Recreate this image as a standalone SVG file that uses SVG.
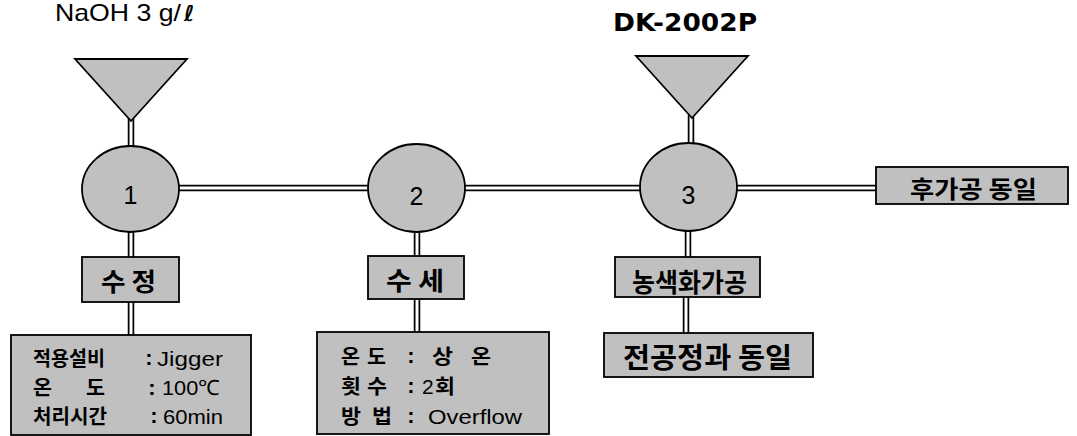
<svg xmlns="http://www.w3.org/2000/svg" width="1077" height="436" viewBox="0 0 1077 436">
<style>
.shape{fill:#c0c0c0;stroke:#000;stroke-width:1.8}
.pipeO{fill:none;stroke:#000;stroke-width:6.5}
.pipeI{fill:none;stroke:#fff;stroke-width:3}
.ko{font-family:"Noto Sans CJK KR",sans-serif;font-size:20px;font-weight:bold;fill:#000}
.la{font-family:"Liberation Sans",Arial,sans-serif;font-size:21px;fill:#000}
.col{font-family:"Liberation Sans",Arial,sans-serif;font-size:22px;font-weight:bold;fill:#000;text-anchor:middle}
.num{font-family:"Liberation Sans",Arial,sans-serif;font-size:25px;fill:#000;text-anchor:middle}
</style>
<rect width="1077" height="436" fill="#fff"/>
<g id="connectors">
<path class="pipeO" d="M131 118V150 M178 188H370 M463 188H642 M735 188H878 M131 230V259 M131 300V337 M417 230V258 M417 297V334 M691 115V147 M688 229V259 M686 295V335"/>
<path class="pipeI" d="M131 118V150 M178 188H370 M463 188H642 M735 188H878 M131 230V259 M131 300V337 M417 230V258 M417 297V334 M691 115V147 M688 229V259 M686 295V335"/>
</g>
<g id="label-naoh"><text class="la" x="55" y="21" style="font-size:24px"><tspan textLength="126" lengthAdjust="spacingAndGlyphs">NaOH 3 g/</tspan><tspan x="184" style="font-family:'DejaVu Sans',sans-serif;font-style:italic;font-weight:bold;font-size:22px">ℓ</tspan></text></g>
<g id="label-dk"><text x="613" y="31" style="font-family:'DejaVu Sans',Verdana,sans-serif;font-size:24px;font-weight:bold" textLength="144" lengthAdjust="spacingAndGlyphs">DK-2002P</text></g>
<g id="hopper1"><polygon class="shape" points="75,59 187,59 131,121"/></g>
<g id="hopper3"><polygon class="shape" points="636,56 748,56 692,118"/></g>
<g id="step1"><ellipse class="shape" cx="130.5" cy="189" rx="48.5" ry="43"/><text class="num" x="130.5" y="204">1</text></g>
<g id="step2"><ellipse class="shape" cx="416.5" cy="188" rx="48.5" ry="44"/><text class="num" x="416.5" y="205">2</text></g>
<g id="step3"><ellipse class="shape" cx="688.5" cy="187" rx="48.5" ry="44"/><text class="num" x="688.5" y="204">3</text></g>
<g id="after"><rect class="shape" x="876" y="167" width="192" height="37"/><text class="ko" x="910" y="198" style="font-size:24px" textLength="127" lengthAdjust="spacingAndGlyphs">후가공 동일</text></g>
<g id="sujeong"><rect class="shape" x="82" y="257" width="97" height="45"/><text class="ko" x="101" y="291" style="font-size:25px" textLength="55" lengthAdjust="spacingAndGlyphs">수 정</text></g>
<g id="suse"><rect class="shape" x="368" y="256" width="96" height="43"/><text class="ko" x="386" y="290" style="font-size:25px" textLength="58" lengthAdjust="spacingAndGlyphs">수 세</text></g>
<g id="nongsaek"><rect class="shape" x="615" y="257" width="145" height="40"/><text class="ko" x="632" y="292" style="font-size:26px" textLength="115" lengthAdjust="spacingAndGlyphs">농색화가공</text></g>
<g id="same"><rect class="shape" x="604" y="333" width="209" height="44"/><text class="ko" x="623" y="368" style="font-size:28px" textLength="169" lengthAdjust="spacingAndGlyphs">전공정과 동일</text></g>
<g id="info1"><rect class="shape" x="11" y="335" width="240" height="100"/>
<text class="ko" x="33" y="366" textLength="72" lengthAdjust="spacingAndGlyphs">적용설비</text>
<text class="col" x="149" y="365">:</text>
<text class="la" x="157" y="366" textLength="66" lengthAdjust="spacingAndGlyphs">Jigger</text>
<text class="ko" x="33" y="395" textLength="19" lengthAdjust="spacingAndGlyphs">온</text>
<text class="ko" x="86" y="395" textLength="19" lengthAdjust="spacingAndGlyphs">도</text>
<text class="col" x="152" y="395">:</text>
<text class="la" x="162" y="395" textLength="58" lengthAdjust="spacingAndGlyphs">100℃</text>
<text class="ko" x="33" y="424" textLength="74" lengthAdjust="spacingAndGlyphs">처리시간</text>
<text class="col" x="154" y="423">:</text>
<text class="la" x="163" y="424" textLength="60" lengthAdjust="spacingAndGlyphs">60min</text>
</g>
<g id="info2"><rect class="shape" x="317" y="332" width="232" height="102"/>
<text class="ko" x="341" y="364" textLength="19" lengthAdjust="spacingAndGlyphs">온</text>
<text class="ko" x="367" y="364" textLength="19" lengthAdjust="spacingAndGlyphs">도</text>
<text class="col" x="411" y="363">:</text>
<text class="ko" x="432" y="364" textLength="21" lengthAdjust="spacingAndGlyphs">상</text>
<text class="ko" x="471" y="364" textLength="20" lengthAdjust="spacingAndGlyphs">온</text>
<text class="ko" x="341" y="394" textLength="20" lengthAdjust="spacingAndGlyphs">횟</text>
<text class="ko" x="367" y="394" textLength="20" lengthAdjust="spacingAndGlyphs">수</text>
<text class="col" x="411" y="393">:</text>
<text class="la" x="422" y="394">2</text>
<text class="ko" x="435" y="394" textLength="20" lengthAdjust="spacingAndGlyphs">회</text>
<text class="ko" x="341" y="424" textLength="20" lengthAdjust="spacingAndGlyphs">방</text>
<text class="ko" x="372" y="424" textLength="20" lengthAdjust="spacingAndGlyphs">법</text>
<text class="col" x="411" y="423">:</text>
<text class="la" x="428" y="424" textLength="94" lengthAdjust="spacingAndGlyphs">Overflow</text>
</g>
</svg>
